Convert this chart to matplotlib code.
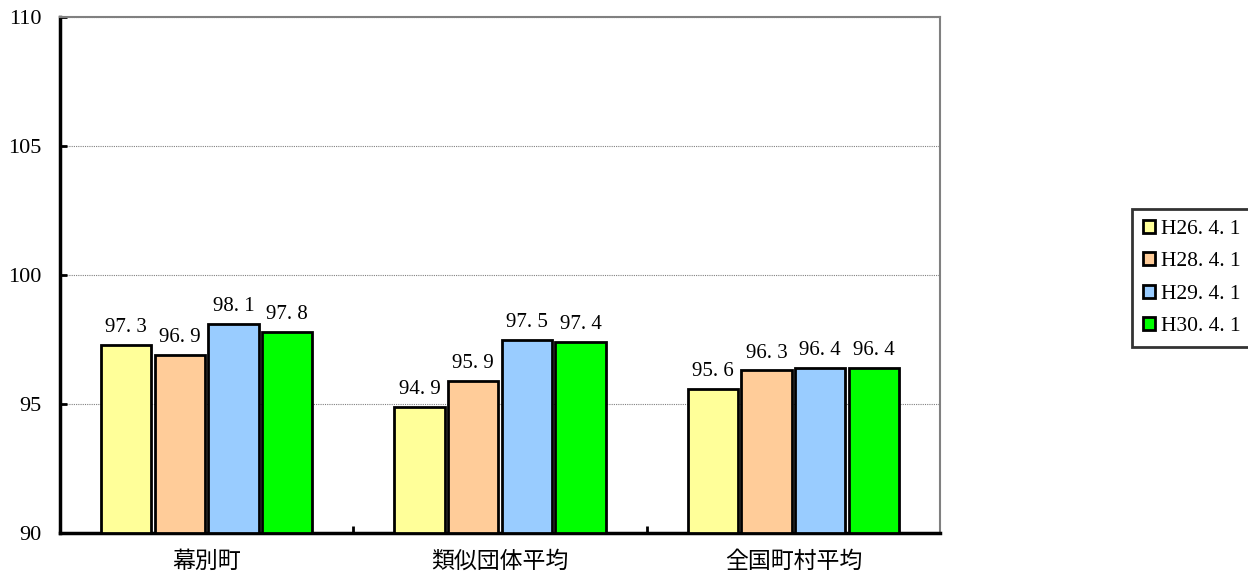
import matplotlib
matplotlib.use("Agg")
import matplotlib.pyplot as plt
import numpy as np

categories = ["幕別町", "類似団体平均", "全国町村平均"]
series_names = ["H26.4.1", "H28.4.1", "H29.4.1", "H30.4.1"]
h26 = [97.3, 94.9, 95.6]
h28 = [96.9, 95.9, 96.3]
h29 = [98.1, 97.5, 96.4]
h30 = [97.8, 97.4, 96.4]
colors = ["#FFFF99", "#FFCC99", "#99CCFF", "#00FF00"]
yticks = [90, 95, 100, 105, 110]

plt.rcParams['font.family'] = ['Liberation Serif', 'Noto Sans CJK JP']

fig = plt.figure(figsize=(12.48, 5.74), dpi=100)
ax = fig.add_axes([60/1248, 41/574, 880/1248, 516/574])

values = [h26, h28, h29, h30]
x = np.arange(len(categories))
slot = 0.183
bw = 0.172
for i, (vals, c, name) in enumerate(zip(values, colors, series_names)):
    pos = x + (i - 1.5) * slot
    ax.bar(pos, [v - 90 for v in vals], bottom=90, width=bw, color=c,
           edgecolor="black", linewidth=2, label=name, zorder=3)
    for p, v in zip(pos, vals):
        ax.text(p, v + 0.5, f"{v:.1f}".replace(".", ". "), ha="center", va="baseline",
                fontsize=15, zorder=4)

ax.set_xlim(-0.5, 2.5)
ax.set_ylim(90, 110)
ax.set_yticks(yticks)
ax.set_yticklabels([str(t) for t in yticks], fontsize=16)
ax.yaxis.grid(True, color="#808080", linestyle=(0, (1, 1)), linewidth=0.8, zorder=0)
ax.tick_params(axis="y", direction="in", length=5, width=2, pad=13)

ax.set_xticks(x)
ax.set_xticklabels(categories, fontsize=16.5)
ax.tick_params(axis="x", length=0, pad=13)
ax.set_xticks([0.5, 1.5], minor=True)
ax.tick_params(axis="x", which="minor", direction="in", length=5, width=2)

for s in ["left", "bottom"]:
    ax.spines[s].set_linewidth(2.5)
    ax.spines[s].set_color("black")
for s in ["top", "right"]:
    ax.spines[s].set_linewidth(1.5)
    ax.spines[s].set_color("#808080")

leg = ax.legend(loc="upper left", bbox_to_anchor=(1132/1248, (574-209)/574),
                bbox_transform=fig.transFigure, prop={'size': 15.5}, frameon=True,
                fancybox=False, edgecolor="black", handlelength=0.56, handleheight=0.56,
                handletextpad=0.3, borderpad=0.5, labelspacing=0.62, borderaxespad=0)
leg.get_frame().set_linewidth(2)
for t in leg.get_texts():
    t.set_text(t.get_text().replace(".", ". "))

fig.savefig("out.png", dpi=100)
